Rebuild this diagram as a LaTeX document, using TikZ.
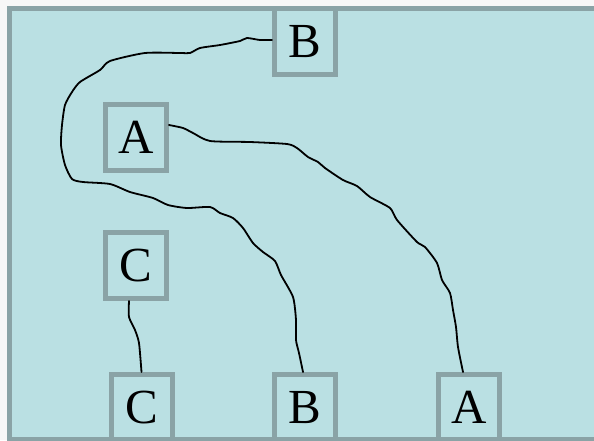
\documentclass[tikz,border=0pt]{standalone}
\usepackage{fontspec}
\setmainfont{Liberation Serif}
\definecolor{slide}{HTML}{BAE0E3}
\definecolor{frame}{HTML}{8AA3A6}
\definecolor{paper}{HTML}{F7F7F7}
\tikzset{
  box/.style={draw=frame, line width=5pt, minimum width=61pt, minimum height=66pt,
    inner sep=0pt, font=\fontsize{49}{49}\selectfont},
  wire/.style={line width=1.8pt, line cap=round, line join=round}
}
\begin{document}
\begin{tikzpicture}[x=1pt, y=-1pt]
\useasboundingbox (0,0) rectangle (594,440);
\fill[paper] (0,0) rectangle (594,440);
\filldraw[fill=slide, draw=frame, line width=5pt] (9.5,8.5) rectangle (604,439.5);
% boxes
\node[box] (Btop) at (305,41.5) {B};
\node[box] (Atop) at (136,137.5) {A};
\node[box] (Ctop) at (135.5,265.5) {C};
\node[box] (Cbot) at (141.5,407.5) {C};
\node[box] (Bbot) at (305,407.5) {B};
\node[box] (Abot) at (469,407.5) {A};
% wires
\draw[wire] plot[smooth, tension=.4] coordinates {([yshift=1.5pt]Btop.west)
  (260,40) (247,38) (240,41) (220,45) (200,48) (190,53) (180,53) (145,53)
  (110,61) (100,70) (80,82) (72,92) (65,105) (62,125) (61,145) (65,165)
  (72,179) (83,182) (110,184) (130,192) (153,198) (168,205) (187,208)
  (210,207) (220,213) (233,218) (243,228) (253,243) (263,252) (275,261)
  (281,275) (293,297) (296,320) (296,340) (299,353) ([xshift=-2pt]Bbot.north)};
\draw[wire] plot[smooth, tension=.4] coordinates {([yshift=12.5pt]Atop.east)
  (183,128) (193,133) (210,141) (250,142) (287,144) (297,148) (308,157)
  (318,162) (325,168) (343,180) (357,186) (370,197) (390,208) (397,220)
  (417,242) (425,247) (437,263) (442,280) (450,293) (453,310) (456,327)
  (458,347) ([xshift=-6pt]Abot.north)};
\draw[wire] plot[smooth, tension=.4] coordinates {([xshift=-6.5pt]Ctop.south)
  (129,317) (135,330) (139,343) (Cbot.north)};
\end{tikzpicture}
\end{document}
